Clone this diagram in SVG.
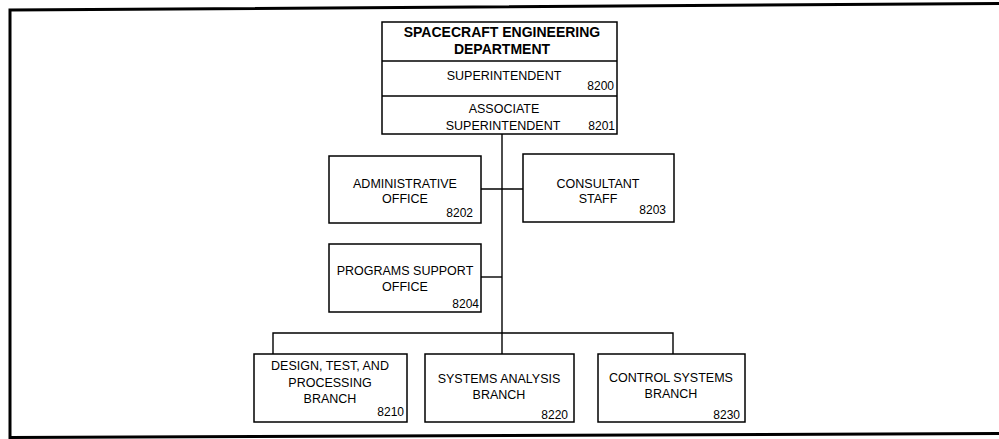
<svg xmlns="http://www.w3.org/2000/svg" width="999" height="439" viewBox="0 0 999 439">
<style>
.box{fill:#fff;stroke:#000;stroke-width:1.5}
.ln{fill:none;stroke:#000;stroke-width:1.4}
text{font-family:"Liberation Sans",Arial,sans-serif;font-size:12.5px;fill:#000}
.c{text-anchor:middle}
.r{text-anchor:end;font-size:12px}
.b{font-weight:bold;font-size:14px}
</style>
<rect width="999" height="439" fill="#fff"/>
<path d="M999,3.5 L10,10 L10,437.5 L999,433.5" fill="none" stroke="#000" stroke-width="3"/>
<g id="connectors" class="ln">
<line x1="502" y1="134" x2="502" y2="333"/>
<line x1="481" y1="189" x2="523" y2="189"/>
<line x1="481" y1="277" x2="502" y2="277"/>
<polyline points="273,354 273,333 673,333 673,354"/>
<line x1="502" y1="333" x2="502" y2="354"/>
</g>
<g id="department">
<rect class="box" x="382" y="22" width="235" height="112"/>
<line class="ln" x1="382" y1="61" x2="617" y2="61"/>
<line class="ln" x1="382" y1="96" x2="617" y2="96"/>
<text class="c b" x="502" y="37">SPACECRAFT ENGINEERING</text>
<text class="c b" x="502" y="54">DEPARTMENT</text>
<text class="c" x="504" y="80">SUPERINTENDENT</text>
<text class="r" x="614" y="90">8200</text>
<text class="c" x="504" y="113">ASSOCIATE</text>
<text class="c" x="503" y="130">SUPERINTENDENT</text>
<text class="r" x="615" y="130">8201</text>
</g>
<g id="admin">
<rect class="box" x="329" y="156" width="152" height="67"/>
<text class="c" x="405" y="188">ADMINISTRATIVE</text>
<text class="c" x="405" y="203">OFFICE</text>
<text class="r" x="473" y="217">8202</text>
</g>
<g id="consultant">
<rect class="box" x="523" y="154" width="151" height="68"/>
<text class="c" x="598" y="188">CONSULTANT</text>
<text class="c" x="598" y="203">STAFF</text>
<text class="r" x="666" y="214">8203</text>
</g>
<g id="programs">
<rect class="box" x="329" y="244" width="152" height="68"/>
<text class="c" x="405" y="275">PROGRAMS SUPPORT</text>
<text class="c" x="405" y="291">OFFICE</text>
<text class="r" x="479" y="308">8204</text>
</g>
<g id="design">
<rect class="box" x="254" y="354" width="153" height="68"/>
<text class="c" x="330" y="370">DESIGN, TEST, AND</text>
<text class="c" x="330" y="387">PROCESSING</text>
<text class="c" x="330" y="403">BRANCH</text>
<text class="r" x="404" y="416">8210</text>
</g>
<g id="analysis">
<rect class="box" x="425" y="354" width="149" height="68"/>
<text class="c" x="499" y="383">SYSTEMS ANALYSIS</text>
<text class="c" x="499" y="399">BRANCH</text>
<text class="r" x="568" y="419">8220</text>
</g>
<g id="control">
<rect class="box" x="598" y="354" width="147" height="68"/>
<text class="c" x="671" y="382">CONTROL SYSTEMS</text>
<text class="c" x="671" y="398">BRANCH</text>
<text class="r" x="740" y="419">8230</text>
</g>
</svg>
